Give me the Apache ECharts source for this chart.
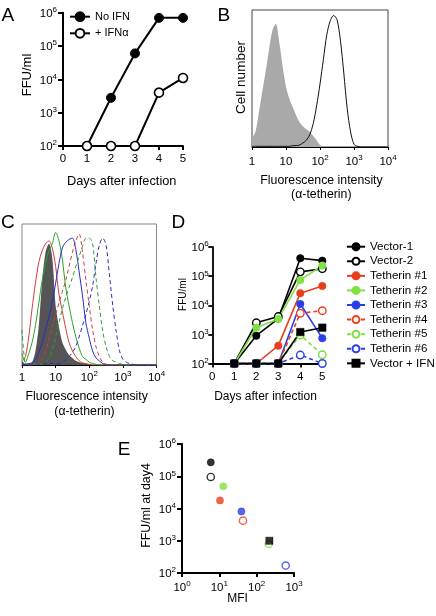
<!DOCTYPE html>
<html><head><meta charset="utf-8">
<script src="https://cdn.jsdelivr.net/npm/echarts@6/dist/echarts.min.js"></script>
<style>html,body{margin:0;padding:0;background:#fff}#c{width:436px;height:616px}</style>
</head><body><div id="c"></div>
<script>
// ---------- Panel A ----------
const aDays = [1, 2, 3, 4, 5];
const aNoIFN = [100, 2800, 60000, 700000, 700000];
const aPlusIFN = [100, 100, 100, 4000, 11000];

// ---------- Panels B / C (histograms, x in log10 units) ----------
const fluorLog = [0,0.1,0.2,0.3,0.4,0.5,0.6,0.7,0.8,0.9,1.0,1.1,1.2,1.3,1.4,1.5,1.6,1.7,1.8,1.9,2.0,
                  2.1,2.2,2.3,2.4,2.5,2.6,2.7,2.8,2.9,3.0,3.1,3.2,3.3,3.4,3.5,3.6,3.7,3.8,3.9,4.0];
const fluorTickBase = ['1', '10', '10', '10', '10'];
const fluorTickExp = ['', '', '2', '3', '4'];

const bControl = [7,11,25,40,55,71,85,90,77,59,44,35,29,23,18,15,13,11,8,5,1.5,0.3,0,0,0,0,0,0,0,0,0,0,0,0,0,0,0,0,0,0,0];
const bTetherin = [0.5,0.5,0.5,0.5,0.5,0.5,0.5,0.5,0.5,0.5,0.5,0.5,1,1,1.5,3,5,9,17,30,46,64,82,92,96,93,78,54,28,11,2,0.5,0,0,0,0,0,0,0,0,0];

const cControl = [3,1,1,2,10,28,60,80,86,76,42,27,16,11,7,5,3,2,1.5,1,0.5,0,0,0,0,0,0,0,0,0,0,0,0,0,0,0,0,0,0,0,0];
const cRedSolid = [3,6,20,40,58,73,81,86,88,83,70,50,38,26,16,10,6,3,1.5,1,0.5,0,0,0,0,0,0,0,0,0,0,0,0,0,0,0,0,0,0,0,0];
const cGreenSolid = [8,2,8,16,28,44,60,72,81,86,94,88,75,55,42,30,20,12,6,4,2,1,0.5,0,0,0,0,0,0,0,0,0,0,0,0,0,0,0,0,0,0];
const cBlueSolid = [0,0.5,1,1.5,4,9,16,25,34,44,58,72,83,87,89,90,82,66,49,30,19,10,5,3,1,0.5,0,0,0,0,0,0,0,0,0,0,0,0,0,0,0];
const cRedDash = [0,0,0,0,0,1,4,10,18,27,36,44,52,60,70,80,88,93,80,60,42,25,13,6,2,0.5,0,0,0,0,0,0,0,0,0,0,0,0,0,0,0];
const cGreenDash = [25,1,0.5,0.5,0.5,0.5,0.5,2,5,11,20,30,40,48,55,62,70,77,84,90,90,86,62,42,24,13,6,3,2,1,0.5,0,0,0,0,0,0,0,0,0,0];
const cBlueDash = [0,0,0,0,0,0,0.5,1,1,1,1,1,2,4,6,9,13,20,28,36,45,56,72,85,90,85,64,42,24,10,4,2,1,0.5,0,0,0,0,0,0,0];

// ---------- Panel D ----------
const dNames = ['Vector-1','Vector-2','Tetherin #1','Tetherin #2','Tetherin #3','Tetherin #4','Tetherin #5','Tetherin #6','Vector + IFN'];
const dDays = [1, 2, 3, 4, 5];
const dVector1 = [100, 900, 3500, 410000, 340000];
const dVector2 = [100, 2500, 4100, 140000, 180000];
const dTeth1 = [100, 100, 410, 26000, 46000];
const dTeth2 = [100, 1700, 3400, 74000, 230000];
const dTeth3 = [100, 100, 100, 11000, 740];
const dTeth4 = [100, 100, 100, 5300, 6500];
const dTeth5 = [100, 100, 100, 950, 200];
const dTeth6 = [100, 100, 100, 195, 100];
const dVectorIFN = [100, 100, 100, 1200, 1700];
const dValues = [dVector1, dVector2, dTeth1, dTeth2, dTeth3, dTeth4, dTeth5, dTeth6, dVectorIFN];

// ---------- Panel E ----------
const eMFI = [5.9, 5.9, 10.4, 12.8, 39, 43, 210, 600, 219];
const eFFUday4 = [270000, 95000, 17800, 49000, 8100, 4200, 790, 170, 1000];

// ---------- styles (kept apart from data) ----------
const RED = '#e8401f', GREEN = '#80e045', BLUE = '#2a40e6', BLACK = '#000';
const groupStyle = [
  {color: BLACK, filled: true,  symbol: 'circle', dashed: false},
  {color: BLACK, filled: false, symbol: 'circle', dashed: false},
  {color: RED,   filled: true,  symbol: 'circle', dashed: false},
  {color: GREEN, filled: true,  symbol: 'circle', dashed: false},
  {color: BLUE,  filled: true,  symbol: 'circle', dashed: false},
  {color: RED,   filled: false, symbol: 'circle', dashed: true},
  {color: GREEN, filled: false, symbol: 'circle', dashed: true},
  {color: BLUE,  filled: false, symbol: 'circle', dashed: true},
  {color: BLACK, filled: true,  symbol: 'rect',   dashed: false}
];

const FONT = '"Liberation Sans", Arial, Helvetica, sans-serif';
const rich = {
  b: {fontSize: 11.5, fontFamily: FONT, color: '#000', padding: [2, 0, 0, 0]},
  s: {fontSize: 8, fontFamily: FONT, color: '#000', padding: [0, 0, 5.5, 0]}
};
const powLabel = v => '{b|10}{s|' + Math.round(Math.log10(v)) + '}';
const fluorLabel = v => {
  const i = Math.round(v);
  return '{b|' + fluorTickBase[i] + '}' + (fluorTickExp[i] ? '{s|' + fluorTickExp[i] + '}' : '');
};
const zip = (xs, ys) => xs.map((x, i) => [x, ys[i]]);

function axisBase(lineW, tickLen) {
  return {
    axisLine: {show: true, onZero: false, lineStyle: {color: '#000', width: lineW}},
    axisTick: {show: true, inside: false, length: tickLen, lineStyle: {color: '#000', width: lineW}},
    splitLine: {show: false}
  };
}

const chart = echarts.init(document.getElementById('c'), null, {renderer: 'canvas'});

const grids = [
  {left: 63, top: 12.7, width: 120, height: 133.3},
  {left: 252, top: 10, width: 136, height: 137, show: true, borderColor: '#444', borderWidth: 1},
  {left: 22, top: 224, width: 134.5, height: 141, show: true, borderColor: '#888', borderWidth: 1},
  {left: 212.3, top: 247, width: 110, height: 116.5},
  {left: 182, top: 444, width: 112, height: 129}
];

const xAxes = [
  Object.assign(axisBase(2, 4), {gridIndex: 0, type: 'value', min: 0, max: 5, interval: 1,
    axisLabel: {margin: 7, fontSize: 11.5, fontFamily: FONT, color: '#000'}}),
  Object.assign(axisBase(1, 3), {gridIndex: 1, type: 'value', min: 0, max: 4, interval: 1,
    axisLabel: {margin: 7, formatter: fluorLabel, rich: rich}}),
  Object.assign(axisBase(1, 3), {gridIndex: 2, type: 'value', min: 0, max: 4, interval: 1,
    axisLabel: {margin: 4.5, formatter: fluorLabel, rich: rich}}),
  Object.assign(axisBase(1.8, 4), {gridIndex: 3, type: 'value', min: 0, max: 5, interval: 1,
    axisLabel: {margin: 7, fontSize: 11.5, fontFamily: FONT, color: '#000'}}),
  Object.assign(axisBase(2, 4), {gridIndex: 4, type: 'log', logBase: 10, min: 1, max: 1000,
    axisLabel: {margin: 7, formatter: powLabel, rich: rich}})
];

const yAxes = [
  Object.assign(axisBase(2, 5), {gridIndex: 0, type: 'log', logBase: 10, min: 100, max: 1e6,
    axisLabel: {margin: 6, formatter: powLabel, rich: rich}}),
  {gridIndex: 1, type: 'value', min: 0, max: 100, show: false, splitLine: {show: false}},
  {gridIndex: 2, type: 'value', min: 0, max: 100, show: false, splitLine: {show: false}},
  Object.assign(axisBase(1.8, 4), {gridIndex: 3, type: 'log', logBase: 10, min: 100, max: 1e6,
    axisLabel: {margin: 3.5, formatter: powLabel, rich: rich}}),
  Object.assign(axisBase(2, 5), {gridIndex: 4, type: 'log', logBase: 10, min: 100, max: 1e6,
    axisLabel: {margin: 6, formatter: powLabel, rich: rich}})
];

const series = [];
// A
series.push({name: 'No IFN', type: 'line', xAxisIndex: 0, yAxisIndex: 0, data: zip(aDays, aNoIFN), clip: false,
  symbol: 'circle', symbolSize: 9, lineStyle: {color: '#000', width: 2},
  itemStyle: {color: '#000', borderColor: '#000', borderWidth: 1}});
series.push({name: '+ IFNα', type: 'line', xAxisIndex: 0, yAxisIndex: 0, data: zip(aDays, aPlusIFN), clip: false,
  symbol: 'circle', symbolSize: 9, lineStyle: {color: '#000', width: 2},
  itemStyle: {color: '#fff', borderColor: '#000', borderWidth: 1.6}});

// B
series.push({type: 'line', xAxisIndex: 1, yAxisIndex: 1, data: zip(fluorLog, bControl), symbol: 'none', smooth: 0.3,
  lineStyle: {width: 0}, areaStyle: {color: '#a9a9a9', opacity: 1}});
series.push({type: 'line', xAxisIndex: 1, yAxisIndex: 1, data: zip(fluorLog, bTetherin), symbol: 'none', smooth: 0.3,
  lineStyle: {width: 1, color: '#111'}});

// C
series.push({type: 'line', xAxisIndex: 2, yAxisIndex: 2, data: zip(fluorLog, cControl), symbol: 'none', smooth: 0.3,
  lineStyle: {width: 0}, areaStyle: {color: '#555', opacity: 1}});
const cLines = [
  [cRedSolid, '#d23c3c', 'solid'], [cGreenSolid, '#2ca02c', 'solid'], [cBlueSolid, '#2a2ac8', 'solid'],
  [cRedDash, '#d23c3c', [4, 3]], [cGreenDash, '#2ca02c', [4, 3]], [cBlueDash, '#2a2ac8', [4, 3]]
];
cLines.forEach(([vals, col, typ]) => {
  series.push({type: 'line', xAxisIndex: 2, yAxisIndex: 2, data: zip(fluorLog, vals), symbol: 'none', smooth: 0.3,
    lineStyle: {width: 1, color: col, type: typ}});
});

// D
dNames.forEach((nm, i) => {
  const st = groupStyle[i];
  series.push({name: nm, type: 'line', xAxisIndex: 3, yAxisIndex: 3, data: zip(dDays, dValues[i]), clip: false,
    symbol: st.symbol, symbolSize: st.symbol === 'rect' ? 7.5 : 7.5,
    lineStyle: {color: st.color, width: 1.6, type: st.dashed ? [4, 3] : 'solid'},
    itemStyle: {color: st.filled ? st.color : '#fff', borderColor: st.color, borderWidth: st.filled ? 0.5 : 1.4}});
});

// E
series.push({type: 'scatter', xAxisIndex: 4, yAxisIndex: 4, clip: false,
  data: eMFI.map((m, i) => {
    const st = groupStyle[i];
    return {value: [m, eFFUday4[i]], symbol: st.symbol, symbolSize: 7.2,
      itemStyle: {color: st.filled ? st.color : '#fff', borderColor: st.color, borderWidth: st.filled ? 0.5 : 1.4}};
  })});

const txt = (text, x, y, size, rot, extra) => Object.assign({
  type: 'text', x: x, y: y, rotation: rot || 0, silent: true,
  style: {text: text, fontSize: size, fontFamily: FONT, fill: '#000', align: 'center', verticalAlign: 'middle'}
}, extra || {});
const letter = (t, x, y) => ({type: 'text', x: x, y: y, silent: true,
  style: {text: t, fontSize: 19, fontFamily: FONT, fill: '#000', align: 'left', verticalAlign: 'middle'}});

const option = {
  animation: false,
  backgroundColor: '#fff',
  grid: grids,
  xAxis: xAxes,
  yAxis: yAxes,
  legend: [
    {data: ['No IFN', '+ IFNα'], orient: 'vertical', left: 69, top: 11.2, padding: 0,
      itemWidth: 20, itemHeight: 11, itemGap: 5.6, selectedMode: false,
      textStyle: {fontSize: 11, lineHeight: 11, fontFamily: FONT, color: '#000'}},
    {data: dNames, orient: 'vertical', left: 346, top: 240.7, padding: 0,
      itemWidth: 18, itemHeight: 8.75, itemGap: 2.58, selectedMode: false,
      textStyle: {fontSize: 11.6, lineHeight: 12, fontFamily: FONT, color: '#000'}}
  ],
  series: series,
  graphic: [
    letter('A', 1.5, 15.6), letter('B', 217.5, 15.6), letter('C', 1, 222.6),
    letter('D', 171.5, 222.6), letter('E', 117.8, 449.4),
    txt('FFU/ml', 27, 75, 13, Math.PI / 2),
    txt('Days after infection', 121.7, 181, 12.8),
    txt('Cell number', 241.5, 77.5, 13.5, Math.PI / 2),
    txt('Fluorescence intensity', 321.5, 180.5, 12.3),
    txt('(α-tetherin)', 321.3, 194.5, 12.3),
    txt('Fluorescence intensity', 86.7, 397, 12.3),
    txt('(α-tetherin)', 84.5, 411.5, 12.3),
    txt('FFU/ml', 182.8, 294.5, 10, Math.PI / 2),
    txt('Days after infection', 265.5, 396.5, 12),
    txt('FFU/ml at day4', 146.3, 505.5, 12.4, Math.PI / 2),
    txt('MFI', 237.5, 598.5, 12)
  ]
};
chart.setOption(option);
</script>
</body></html>
